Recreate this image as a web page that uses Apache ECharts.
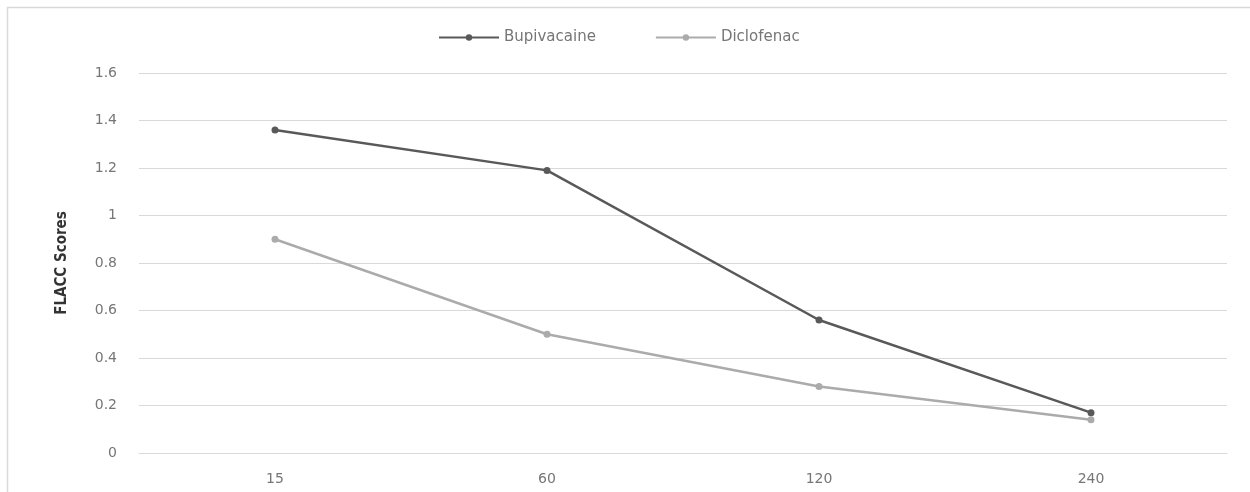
<!DOCTYPE html>
<html>
<head>
<meta charset="utf-8">
<script src="https://cdn.jsdelivr.net/npm/echarts@6/dist/echarts.min.js"></script>
<style>html,body{margin:0;padding:0;background:#fff;}#c{width:1250px;height:492px;}</style>
</head>
<body>
<div id="c"></div>
<script>
const categories = ['15', '60', '120', '240'];
const bupivacaine = [1.36, 1.19, 0.56, 0.17];
const diclofenac = [0.90, 0.50, 0.28, 0.14];
const yTicks = { min: 0, max: 1.6, interval: 0.2 };

const chart = echarts.init(document.getElementById('c'), null, { renderer: 'canvas' });
const labelFont = { color: '#767676', fontSize: 14, fontFamily: 'DejaVu Sans' };
chart.setOption({
  animation: false,
  graphic: [{
    type: 'rect', shape: { x: 7.5, y: 7.5, width: 1300, height: 600 },
    style: { fill: 'none', stroke: '#d9d9d9', lineWidth: 1.5 }, silent: true, z: -1
  }],
  legend: {
    top: 25, left: 433, itemWidth: 60, itemHeight: 8, itemGap: 59,
    textStyle: { color: '#767676', fontSize: 15, fontFamily: 'DejaVu Sans' },
    data: ['Bupivacaine', 'Diclofenac']
  },
  grid: { left: 139, right: 23, top: 73, bottom: 39, containLabel: false },
  xAxis: {
    type: 'category', data: categories, boundaryGap: true,
    axisLine: { show: true, lineStyle: { color: '#d9d9d9' } },
    axisTick: { show: false },
    axisLabel: Object.assign({ margin: 19 }, labelFont)
  },
  yAxis: {
    type: 'value', min: yTicks.min, max: yTicks.max, interval: yTicks.interval,
    name: 'FLACC Scores', nameLocation: 'middle', nameGap: 69,
    nameTextStyle: { fontFamily: 'Liberation Sans Narrow, DejaVu Sans Condensed, Roboto, sans-serif', fontWeight: 'bold', fontSize: 15, color: '#333' },
    axisLine: { show: false }, axisTick: { show: false },
    axisLabel: Object.assign({ margin: 22, formatter: v => String(+v.toFixed(1)) }, labelFont),
    splitLine: { lineStyle: { color: '#d9d9d9', width: 1 } }
  },
  series: [
    { name: 'Bupivacaine', type: 'line', data: bupivacaine, symbol: 'circle', symbolSize: 7,
      lineStyle: { color: '#595959', width: 2.5 }, itemStyle: { color: '#595959' } },
    { name: 'Diclofenac', type: 'line', data: diclofenac, symbol: 'circle', symbolSize: 7,
      lineStyle: { color: '#ababab', width: 2.5 }, itemStyle: { color: '#ababab' } }
  ]
});
</script>
</body>
</html>
